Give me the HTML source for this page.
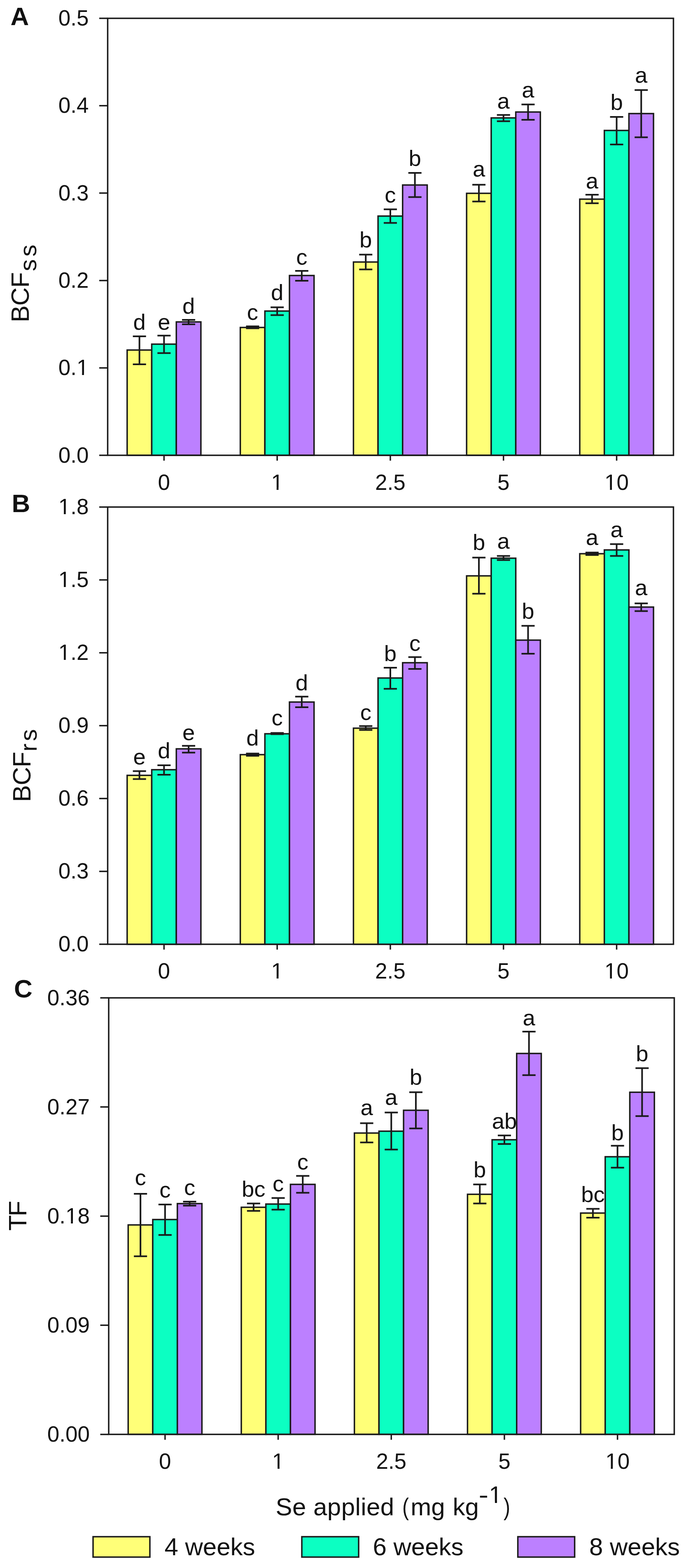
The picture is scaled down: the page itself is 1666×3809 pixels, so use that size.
<!DOCTYPE html>
<html><head><meta charset="utf-8"><title>Se bioconcentration and translocation factors</title>
<style>
html,body{margin:0;padding:0;background:#fff;}
body{width:1666px;height:3809px;overflow:hidden;}
svg{display:block;}
text{font-family:"Liberation Sans", Arial, sans-serif;fill:#111;}
</style></head>
<body>
<div id="fig"><svg width="1666" height="3809" viewBox="0 0 1666 3809">
<rect width="1666" height="3809" fill="#fff"/>
<rect x="308.8" y="850.3" width="59.7" height="255.7" fill="#FFFF78" stroke="#1a1a1a" stroke-width="3.5"/>
<rect x="368.5" y="836" width="59.7" height="270" fill="#0CFFC2" stroke="#1a1a1a" stroke-width="3.5"/>
<rect x="428.2" y="782" width="59.7" height="324" fill="#BC80FF" stroke="#1a1a1a" stroke-width="3.5"/>
<rect x="583.6" y="795.5" width="59.7" height="310.5" fill="#FFFF78" stroke="#1a1a1a" stroke-width="3.5"/>
<rect x="643.3" y="755.6" width="59.7" height="350.4" fill="#0CFFC2" stroke="#1a1a1a" stroke-width="3.5"/>
<rect x="703" y="669.3" width="59.7" height="436.7" fill="#BC80FF" stroke="#1a1a1a" stroke-width="3.5"/>
<rect x="858.4" y="636.5" width="59.7" height="469.5" fill="#FFFF78" stroke="#1a1a1a" stroke-width="3.5"/>
<rect x="918.1" y="524.9" width="59.7" height="581.1" fill="#0CFFC2" stroke="#1a1a1a" stroke-width="3.5"/>
<rect x="977.8" y="449.4" width="59.7" height="656.6" fill="#BC80FF" stroke="#1a1a1a" stroke-width="3.5"/>
<rect x="1133.2" y="469.6" width="59.7" height="636.4" fill="#FFFF78" stroke="#1a1a1a" stroke-width="3.5"/>
<rect x="1192.9" y="286.4" width="59.7" height="819.6" fill="#0CFFC2" stroke="#1a1a1a" stroke-width="3.5"/>
<rect x="1252.6" y="272.1" width="59.7" height="833.9" fill="#BC80FF" stroke="#1a1a1a" stroke-width="3.5"/>
<rect x="1408" y="483.8" width="59.7" height="622.2" fill="#FFFF78" stroke="#1a1a1a" stroke-width="3.5"/>
<rect x="1467.7" y="316.9" width="59.7" height="789.1" fill="#0CFFC2" stroke="#1a1a1a" stroke-width="3.5"/>
<rect x="1527.4" y="275.9" width="59.7" height="830.1" fill="#BC80FF" stroke="#1a1a1a" stroke-width="3.5"/>
<path d="M338.65 817.1V885M322.65 817.1H354.65M322.65 885H354.65" stroke="#1a1a1a" stroke-width="4.0" fill="none"/>
<path d="M398.35 815.2V857.7M382.35 815.2H414.35M382.35 857.7H414.35" stroke="#1a1a1a" stroke-width="4.0" fill="none"/>
<path d="M458.05 777.1V787.8M442.05 777.1H474.05M442.05 787.8H474.05" stroke="#1a1a1a" stroke-width="4.0" fill="none"/>
<path d="M613.45 792.8V797.6M597.45 792.8H629.45M597.45 797.6H629.45" stroke="#1a1a1a" stroke-width="4.0" fill="none"/>
<path d="M673.15 746.4V765.5M657.15 746.4H689.15M657.15 765.5H689.15" stroke="#1a1a1a" stroke-width="4.0" fill="none"/>
<path d="M732.85 658V682M716.85 658H748.85M716.85 682H748.85" stroke="#1a1a1a" stroke-width="4.0" fill="none"/>
<path d="M888.25 618.4V654.4M872.25 618.4H904.25M872.25 654.4H904.25" stroke="#1a1a1a" stroke-width="4.0" fill="none"/>
<path d="M947.95 508.4V541.5M931.95 508.4H963.95M931.95 541.5H963.95" stroke="#1a1a1a" stroke-width="4.0" fill="none"/>
<path d="M1007.65 420.1V478.7M991.65 420.1H1023.65M991.65 478.7H1023.65" stroke="#1a1a1a" stroke-width="4.0" fill="none"/>
<path d="M1163.05 448.7V489.4M1147.05 448.7H1179.05M1147.05 489.4H1179.05" stroke="#1a1a1a" stroke-width="4.0" fill="none"/>
<path d="M1222.75 279.2V294.6M1206.75 279.2H1238.75M1206.75 294.6H1238.75" stroke="#1a1a1a" stroke-width="4.0" fill="none"/>
<path d="M1282.45 253.8V290.9M1266.45 253.8H1298.45M1266.45 290.9H1298.45" stroke="#1a1a1a" stroke-width="4.0" fill="none"/>
<path d="M1437.85 473.1V493.7M1421.85 473.1H1453.85M1421.85 493.7H1453.85" stroke="#1a1a1a" stroke-width="4.0" fill="none"/>
<path d="M1497.55 284.1V351.1M1481.55 284.1H1513.55M1481.55 351.1H1513.55" stroke="#1a1a1a" stroke-width="4.0" fill="none"/>
<path d="M1557.25 218.7V333.5M1541.25 218.7H1573.25M1541.25 333.5H1573.25" stroke="#1a1a1a" stroke-width="4.0" fill="none"/>
<rect x="261.5" y="44.5" width="1374" height="1061.5" fill="none" stroke="#1a1a1a" stroke-width="3.5"/>
<path d="M241 44.5H261.5M241 256.8H261.5M241 469.1H261.5M241 681.4H261.5M241 893.7H261.5M241 1106H261.5M398.35 1106V1119M673.15 1106V1119M947.95 1106V1119M1222.75 1106V1119M1497.55 1106V1119" stroke="#1a1a1a" stroke-width="3.5" fill="none"/>
<text x="215.4" y="62" text-anchor="end" font-size="53">0.5</text>
<text x="215.4" y="274.3" text-anchor="end" font-size="53">0.4</text>
<text x="215.4" y="486.6" text-anchor="end" font-size="53">0.3</text>
<text x="215.4" y="698.9" text-anchor="end" font-size="53">0.2</text>
<text x="215.4" y="911.2" text-anchor="end" font-size="53">0.1</text>
<text x="215.4" y="1123.5" text-anchor="end" font-size="53">0.0</text>
<text x="398.35" y="1189.5" text-anchor="middle" font-size="53">0</text>
<text x="673.15" y="1189.5" text-anchor="middle" font-size="53">1</text>
<text x="947.95" y="1189.5" text-anchor="middle" font-size="53">2.5</text>
<text x="1222.75" y="1189.5" text-anchor="middle" font-size="53">5</text>
<text x="1497.55" y="1189.5" text-anchor="middle" font-size="53">10</text>
<text x="338.65" y="801" text-anchor="middle" font-size="54.5">d</text>
<text x="398.35" y="801" text-anchor="middle" font-size="54.5">e</text>
<text x="458.05" y="762" text-anchor="middle" font-size="54.5">d</text>
<text x="613.45" y="777.1" text-anchor="middle" font-size="54.5">c</text>
<text x="673.15" y="729.3" text-anchor="middle" font-size="54.5">d</text>
<text x="732.85" y="643.4" text-anchor="middle" font-size="54.5">c</text>
<text x="888.25" y="601.3" text-anchor="middle" font-size="54.5">b</text>
<text x="947.95" y="492.2" text-anchor="middle" font-size="54.5">c</text>
<text x="1007.65" y="403.4" text-anchor="middle" font-size="54.5">b</text>
<text x="1163.05" y="428.6" text-anchor="middle" font-size="54.5">a</text>
<text x="1222.75" y="264.4" text-anchor="middle" font-size="54.5">a</text>
<text x="1282.45" y="237.1" text-anchor="middle" font-size="54.5">a</text>
<text x="1437.85" y="457.7" text-anchor="middle" font-size="54.5">a</text>
<text x="1497.55" y="266.6" text-anchor="middle" font-size="54.5">b</text>
<text x="1557.25" y="201.2" text-anchor="middle" font-size="54.5">a</text>
<text x="25.6" y="61.1" font-size="62" font-weight="bold">A</text>
<rect x="308.8" y="1883.5" width="59.7" height="410.3" fill="#FFFF78" stroke="#1a1a1a" stroke-width="3.5"/>
<rect x="368.5" y="1869.8" width="59.7" height="424" fill="#0CFFC2" stroke="#1a1a1a" stroke-width="3.5"/>
<rect x="428.2" y="1819.1" width="59.7" height="474.7" fill="#BC80FF" stroke="#1a1a1a" stroke-width="3.5"/>
<rect x="583.6" y="1833.2" width="59.7" height="460.6" fill="#FFFF78" stroke="#1a1a1a" stroke-width="3.5"/>
<rect x="643.3" y="1782.5" width="59.7" height="511.3" fill="#0CFFC2" stroke="#1a1a1a" stroke-width="3.5"/>
<rect x="703" y="1705.4" width="59.7" height="588.4" fill="#BC80FF" stroke="#1a1a1a" stroke-width="3.5"/>
<rect x="858.4" y="1768.9" width="59.7" height="524.9" fill="#FFFF78" stroke="#1a1a1a" stroke-width="3.5"/>
<rect x="918.1" y="1647" width="59.7" height="646.8" fill="#0CFFC2" stroke="#1a1a1a" stroke-width="3.5"/>
<rect x="977.8" y="1609.9" width="59.7" height="683.9" fill="#BC80FF" stroke="#1a1a1a" stroke-width="3.5"/>
<rect x="1133.2" y="1398.9" width="59.7" height="894.9" fill="#FFFF78" stroke="#1a1a1a" stroke-width="3.5"/>
<rect x="1192.9" y="1356" width="59.7" height="937.8" fill="#0CFFC2" stroke="#1a1a1a" stroke-width="3.5"/>
<rect x="1252.6" y="1555" width="59.7" height="738.8" fill="#BC80FF" stroke="#1a1a1a" stroke-width="3.5"/>
<rect x="1408" y="1345.1" width="59.7" height="948.7" fill="#FFFF78" stroke="#1a1a1a" stroke-width="3.5"/>
<rect x="1467.7" y="1335.9" width="59.7" height="957.9" fill="#0CFFC2" stroke="#1a1a1a" stroke-width="3.5"/>
<rect x="1527.4" y="1474.7" width="59.7" height="819.1" fill="#BC80FF" stroke="#1a1a1a" stroke-width="3.5"/>
<path d="M338.65 1873.3V1892.6M322.65 1873.3H354.65M322.65 1892.6H354.65" stroke="#1a1a1a" stroke-width="4.0" fill="none"/>
<path d="M398.35 1859.1V1882.1M382.35 1859.1H414.35M382.35 1882.1H414.35" stroke="#1a1a1a" stroke-width="4.0" fill="none"/>
<path d="M458.05 1811.8V1828.2M442.05 1811.8H474.05M442.05 1828.2H474.05" stroke="#1a1a1a" stroke-width="4.0" fill="none"/>
<path d="M613.45 1830.4V1836.1M597.45 1830.4H629.45M597.45 1836.1H629.45" stroke="#1a1a1a" stroke-width="4.0" fill="none"/>
<path d="M673.15 1780.6V1783.4M657.15 1780.6H689.15M657.15 1783.4H689.15" stroke="#1a1a1a" stroke-width="4.0" fill="none"/>
<path d="M732.85 1692.3V1718.1M716.85 1692.3H748.85M716.85 1718.1H748.85" stroke="#1a1a1a" stroke-width="4.0" fill="none"/>
<path d="M888.25 1763.8V1773.2M872.25 1763.8H904.25M872.25 1773.2H904.25" stroke="#1a1a1a" stroke-width="4.0" fill="none"/>
<path d="M947.95 1622V1673.3M931.95 1622H963.95M931.95 1673.3H963.95" stroke="#1a1a1a" stroke-width="4.0" fill="none"/>
<path d="M1007.65 1596.2V1624.9M991.65 1596.2H1023.65M991.65 1624.9H1023.65" stroke="#1a1a1a" stroke-width="4.0" fill="none"/>
<path d="M1163.05 1354.4V1442.3M1147.05 1354.4H1179.05M1147.05 1442.3H1179.05" stroke="#1a1a1a" stroke-width="4.0" fill="none"/>
<path d="M1222.75 1350.6V1360.6M1206.75 1350.6H1238.75M1206.75 1360.6H1238.75" stroke="#1a1a1a" stroke-width="4.0" fill="none"/>
<path d="M1282.45 1520.2V1587.9M1266.45 1520.2H1298.45M1266.45 1587.9H1298.45" stroke="#1a1a1a" stroke-width="4.0" fill="none"/>
<path d="M1437.85 1342.2V1348.2M1421.85 1342.2H1453.85M1421.85 1348.2H1453.85" stroke="#1a1a1a" stroke-width="4.0" fill="none"/>
<path d="M1497.55 1321.8V1350.5M1481.55 1321.8H1513.55M1481.55 1350.5H1513.55" stroke="#1a1a1a" stroke-width="4.0" fill="none"/>
<path d="M1557.25 1465.7V1484.5M1541.25 1465.7H1573.25M1541.25 1484.5H1573.25" stroke="#1a1a1a" stroke-width="4.0" fill="none"/>
<rect x="261.5" y="1231.7" width="1374" height="1062.1" fill="none" stroke="#1a1a1a" stroke-width="3.5"/>
<path d="M241 1231.7H261.5M241 1408.7H261.5M241 1585.7H261.5M241 1762.8H261.5M241 1939.8H261.5M241 2116.8H261.5M241 2293.8H261.5M398.35 2293.8V2306.8M673.15 2293.8V2306.8M947.95 2293.8V2306.8M1222.75 2293.8V2306.8M1497.55 2293.8V2306.8" stroke="#1a1a1a" stroke-width="3.5" fill="none"/>
<text x="215.4" y="1249.2" text-anchor="end" font-size="53">1.8</text>
<text x="215.4" y="1426.2" text-anchor="end" font-size="53">1.5</text>
<text x="215.4" y="1603.2" text-anchor="end" font-size="53">1.2</text>
<text x="215.4" y="1780.3" text-anchor="end" font-size="53">0.9</text>
<text x="215.4" y="1957.3" text-anchor="end" font-size="53">0.6</text>
<text x="215.4" y="2134.3" text-anchor="end" font-size="53">0.3</text>
<text x="215.4" y="2311.3" text-anchor="end" font-size="53">0.0</text>
<text x="398.35" y="2377.3" text-anchor="middle" font-size="53">0</text>
<text x="673.15" y="2377.3" text-anchor="middle" font-size="53">1</text>
<text x="947.95" y="2377.3" text-anchor="middle" font-size="53">2.5</text>
<text x="1222.75" y="2377.3" text-anchor="middle" font-size="53">5</text>
<text x="1497.55" y="2377.3" text-anchor="middle" font-size="53">10</text>
<text x="338.65" y="1856.6" text-anchor="middle" font-size="54.5">e</text>
<text x="398.35" y="1842" text-anchor="middle" font-size="54.5">d</text>
<text x="458.05" y="1798.1" text-anchor="middle" font-size="54.5">e</text>
<text x="613.45" y="1811.3" text-anchor="middle" font-size="54.5">d</text>
<text x="673.15" y="1761.5" text-anchor="middle" font-size="54.5">c</text>
<text x="732.85" y="1676.6" text-anchor="middle" font-size="54.5">d</text>
<text x="888.25" y="1748.5" text-anchor="middle" font-size="54.5">c</text>
<text x="947.95" y="1605.9" text-anchor="middle" font-size="54.5">b</text>
<text x="1007.65" y="1580.5" text-anchor="middle" font-size="54.5">c</text>
<text x="1163.05" y="1336.3" text-anchor="middle" font-size="54.5">b</text>
<text x="1222.75" y="1333.4" text-anchor="middle" font-size="54.5">a</text>
<text x="1282.45" y="1502.9" text-anchor="middle" font-size="54.5">b</text>
<text x="1437.85" y="1323.7" text-anchor="middle" font-size="54.5">a</text>
<text x="1497.55" y="1305.1" text-anchor="middle" font-size="54.5">a</text>
<text x="1557.25" y="1445.5" text-anchor="middle" font-size="54.5">a</text>
<text x="28.55" y="1243.8" font-size="62" font-weight="bold">B</text>
<rect x="311.3" y="2975.6" width="59.7" height="508.8" fill="#FFFF78" stroke="#1a1a1a" stroke-width="3.5"/>
<rect x="371" y="2962.5" width="59.7" height="521.9" fill="#0CFFC2" stroke="#1a1a1a" stroke-width="3.5"/>
<rect x="430.7" y="2923.8" width="59.7" height="560.6" fill="#BC80FF" stroke="#1a1a1a" stroke-width="3.5"/>
<rect x="586" y="2932.7" width="59.7" height="551.7" fill="#FFFF78" stroke="#1a1a1a" stroke-width="3.5"/>
<rect x="645.7" y="2924.9" width="59.7" height="559.5" fill="#0CFFC2" stroke="#1a1a1a" stroke-width="3.5"/>
<rect x="705.4" y="2877.1" width="59.7" height="607.3" fill="#BC80FF" stroke="#1a1a1a" stroke-width="3.5"/>
<rect x="860.7" y="2752.4" width="59.7" height="732" fill="#FFFF78" stroke="#1a1a1a" stroke-width="3.5"/>
<rect x="920.4" y="2747.9" width="59.7" height="736.5" fill="#0CFFC2" stroke="#1a1a1a" stroke-width="3.5"/>
<rect x="980.1" y="2697.1" width="59.7" height="787.3" fill="#BC80FF" stroke="#1a1a1a" stroke-width="3.5"/>
<rect x="1135.4" y="2901.2" width="59.7" height="583.2" fill="#FFFF78" stroke="#1a1a1a" stroke-width="3.5"/>
<rect x="1195.1" y="2768.7" width="59.7" height="715.7" fill="#0CFFC2" stroke="#1a1a1a" stroke-width="3.5"/>
<rect x="1254.8" y="2559.1" width="59.7" height="925.3" fill="#BC80FF" stroke="#1a1a1a" stroke-width="3.5"/>
<rect x="1410.1" y="2946.8" width="59.7" height="537.6" fill="#FFFF78" stroke="#1a1a1a" stroke-width="3.5"/>
<rect x="1469.8" y="2810" width="59.7" height="674.4" fill="#0CFFC2" stroke="#1a1a1a" stroke-width="3.5"/>
<rect x="1529.5" y="2653.3" width="59.7" height="831.1" fill="#BC80FF" stroke="#1a1a1a" stroke-width="3.5"/>
<path d="M341.15 2900V3051.7M325.15 2900H357.15M325.15 3051.7H357.15" stroke="#1a1a1a" stroke-width="4.0" fill="none"/>
<path d="M400.85 2926V3000M384.85 2926H416.85M384.85 3000H416.85" stroke="#1a1a1a" stroke-width="4.0" fill="none"/>
<path d="M460.55 2919V2928.7M444.55 2919H476.55M444.55 2928.7H476.55" stroke="#1a1a1a" stroke-width="4.0" fill="none"/>
<path d="M615.85 2923.4V2941.5M599.85 2923.4H631.85M599.85 2941.5H631.85" stroke="#1a1a1a" stroke-width="4.0" fill="none"/>
<path d="M675.55 2910.3V2938.6M659.55 2910.3H691.55M659.55 2938.6H691.55" stroke="#1a1a1a" stroke-width="4.0" fill="none"/>
<path d="M735.25 2856.6V2897.6M719.25 2856.6H751.25M719.25 2897.6H751.25" stroke="#1a1a1a" stroke-width="4.0" fill="none"/>
<path d="M890.55 2728.4V2775.2M874.55 2728.4H906.55M874.55 2775.2H906.55" stroke="#1a1a1a" stroke-width="4.0" fill="none"/>
<path d="M950.25 2702.6V2792.4M934.25 2702.6H966.25M934.25 2792.4H966.25" stroke="#1a1a1a" stroke-width="4.0" fill="none"/>
<path d="M1009.95 2653.2V2741.2M993.95 2653.2H1025.95M993.95 2741.2H1025.95" stroke="#1a1a1a" stroke-width="4.0" fill="none"/>
<path d="M1165.25 2877.3V2923.5M1149.25 2877.3H1181.25M1149.25 2923.5H1181.25" stroke="#1a1a1a" stroke-width="4.0" fill="none"/>
<path d="M1224.95 2758.3V2779.1M1208.95 2758.3H1240.95M1208.95 2779.1H1240.95" stroke="#1a1a1a" stroke-width="4.0" fill="none"/>
<path d="M1284.65 2506V2611.8M1268.65 2506H1300.65M1268.65 2611.8H1300.65" stroke="#1a1a1a" stroke-width="4.0" fill="none"/>
<path d="M1439.95 2936.4V2958.1M1423.95 2936.4H1455.95M1423.95 2958.1H1455.95" stroke="#1a1a1a" stroke-width="4.0" fill="none"/>
<path d="M1499.65 2783.3V2836.4M1483.65 2783.3H1515.65M1483.65 2836.4H1515.65" stroke="#1a1a1a" stroke-width="4.0" fill="none"/>
<path d="M1559.35 2594.7V2711.3M1543.35 2594.7H1575.35M1543.35 2711.3H1575.35" stroke="#1a1a1a" stroke-width="4.0" fill="none"/>
<rect x="264" y="2424" width="1373.5" height="1060.4" fill="none" stroke="#1a1a1a" stroke-width="3.5"/>
<path d="M243.5 2424H264M243.5 2689.1H264M243.5 2954.2H264M243.5 3219.3H264M243.5 3484.4H264M400.85 3484.4V3497.4M675.55 3484.4V3497.4M950.25 3484.4V3497.4M1224.95 3484.4V3497.4M1499.65 3484.4V3497.4" stroke="#1a1a1a" stroke-width="3.5" fill="none"/>
<text x="217.9" y="2441.5" text-anchor="end" font-size="53">0.36</text>
<text x="217.9" y="2706.6" text-anchor="end" font-size="53">0.27</text>
<text x="217.9" y="2971.7" text-anchor="end" font-size="53">0.18</text>
<text x="217.9" y="3236.8" text-anchor="end" font-size="53">0.09</text>
<text x="217.9" y="3501.9" text-anchor="end" font-size="53">0.00</text>
<text x="400.85" y="3567.9" text-anchor="middle" font-size="53">0</text>
<text x="675.55" y="3567.9" text-anchor="middle" font-size="53">1</text>
<text x="950.25" y="3567.9" text-anchor="middle" font-size="53">2.5</text>
<text x="1224.95" y="3567.9" text-anchor="middle" font-size="53">5</text>
<text x="1499.65" y="3567.9" text-anchor="middle" font-size="53">10</text>
<text x="341.15" y="2879" text-anchor="middle" font-size="54.5">c</text>
<text x="400.85" y="2909.3" text-anchor="middle" font-size="54.5">c</text>
<text x="460.55" y="2903.4" text-anchor="middle" font-size="54.5">c</text>
<text x="615.85" y="2906.5" text-anchor="middle" font-size="54.5">bc</text>
<text x="675.55" y="2894.2" text-anchor="middle" font-size="54.5">c</text>
<text x="735.25" y="2840.5" text-anchor="middle" font-size="54.5">c</text>
<text x="890.55" y="2709.3" text-anchor="middle" font-size="54.5">a</text>
<text x="950.25" y="2683.9" text-anchor="middle" font-size="54.5">a</text>
<text x="1009.95" y="2635.1" text-anchor="middle" font-size="54.5">b</text>
<text x="1165.25" y="2860" text-anchor="middle" font-size="54.5">b</text>
<text x="1224.95" y="2741.8" text-anchor="middle" font-size="54.5">ab</text>
<text x="1284.65" y="2491.2" text-anchor="middle" font-size="54.5">a</text>
<text x="1439.95" y="2919.6" text-anchor="middle" font-size="54.5">bc</text>
<text x="1499.65" y="2770.3" text-anchor="middle" font-size="54.5">b</text>
<text x="1559.35" y="2577.6" text-anchor="middle" font-size="54.5">b</text>
<text x="33.9" y="2423.3" font-size="62" font-weight="bold">C</text>
<text transform="translate(69.8 783.1) rotate(-90)" font-size="62" letter-spacing="-1">BCF</text>
<text transform="translate(87.8 658.7) rotate(-90)" font-size="58" letter-spacing="6.5">ss</text>
<text transform="translate(73.5 1948.2) rotate(-90)" font-size="62" letter-spacing="-1">BCF</text>
<text transform="translate(89 1825.5) rotate(-90)" font-size="58" letter-spacing="6">rs</text>
<text transform="translate(63.6 2989.7) rotate(-90)" font-size="62" letter-spacing="-3">TF</text>
<text x="669.6" y="3681.3" font-size="60" letter-spacing="0.45">Se applied</text>
<text transform="translate(986.4 3681.3) scale(0.8 1)" x="-11.67" font-size="60">(</text>
<text x="997.2" y="3681.3" font-size="60">mg</text>
<text x="1099.6" y="3681.3" font-size="60">kg</text>
<text transform="translate(1162.5 3650.8) scale(1.25 1)" font-size="57">-</text>
<text x="1187.6" y="3651" font-size="57">1</text>
<text transform="translate(1229.75 3681.3) scale(0.8 1)" x="-8.3" font-size="60">)</text>
<rect x="226" y="3733" width="138" height="49.5" fill="#FFFF78" stroke="#1a1a1a" stroke-width="3.5"/>
<text x="399.5" y="3777.5" font-size="60">4 weeks</text>
<rect x="733" y="3733" width="138" height="49.5" fill="#0CFFC2" stroke="#1a1a1a" stroke-width="3.5"/>
<text x="905.5" y="3777.5" font-size="60">6 weeks</text>
<rect x="1257.6" y="3733" width="138" height="49.5" fill="#BC80FF" stroke="#1a1a1a" stroke-width="3.5"/>
<text x="1431" y="3777.5" font-size="60">8 weeks</text>
<rect x="189.10" y="906.64" width="10.15" height="5.16" fill="#fff"/>
<rect x="203.93" y="906.64" width="10.08" height="5.16" fill="#fff"/>
<rect x="661.59" y="1184.94" width="10.15" height="5.16" fill="#fff"/>
<rect x="676.42" y="1184.94" width="10.08" height="5.16" fill="#fff"/>
<rect x="1471.25" y="1184.94" width="10.15" height="5.16" fill="#fff"/>
<rect x="1486.08" y="1184.94" width="10.08" height="5.16" fill="#fff"/>
<rect x="144.90" y="1244.64" width="10.15" height="5.16" fill="#fff"/>
<rect x="159.73" y="1244.64" width="10.08" height="5.16" fill="#fff"/>
<rect x="144.90" y="1421.64" width="10.15" height="5.16" fill="#fff"/>
<rect x="159.73" y="1421.64" width="10.08" height="5.16" fill="#fff"/>
<rect x="144.90" y="1598.64" width="10.15" height="5.16" fill="#fff"/>
<rect x="159.73" y="1598.64" width="10.08" height="5.16" fill="#fff"/>
<rect x="661.59" y="2372.74" width="10.15" height="5.16" fill="#fff"/>
<rect x="676.42" y="2372.74" width="10.08" height="5.16" fill="#fff"/>
<rect x="1471.25" y="2372.74" width="10.15" height="5.16" fill="#fff"/>
<rect x="1486.08" y="2372.74" width="10.08" height="5.16" fill="#fff"/>
<rect x="162.13" y="2967.14" width="10.15" height="5.16" fill="#fff"/>
<rect x="176.96" y="2967.14" width="10.08" height="5.16" fill="#fff"/>
<rect x="663.99" y="3563.34" width="10.15" height="5.16" fill="#fff"/>
<rect x="678.82" y="3563.34" width="10.08" height="5.16" fill="#fff"/>
<rect x="1473.35" y="3563.34" width="10.15" height="5.16" fill="#fff"/>
<rect x="1488.18" y="3563.34" width="10.08" height="5.16" fill="#fff"/>
<rect x="1191.02" y="3646.14" width="10.92" height="5.46" fill="#fff"/>
<rect x="1206.97" y="3646.14" width="10.84" height="5.46" fill="#fff"/>
</svg></div>
</body></html>
